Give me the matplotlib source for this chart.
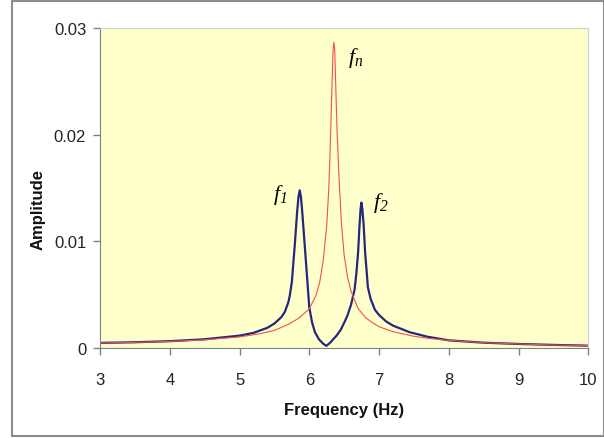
import matplotlib
matplotlib.use("Agg")
import matplotlib.pyplot as plt
from matplotlib.patches import Rectangle

plt.rcParams['font.family'] = ['Liberation Sans', 'DejaVu Sans']
plt.rcParams['mathtext.fontset'] = 'custom'
plt.rcParams['mathtext.it'] = 'Liberation Serif:italic'
plt.rcParams['mathtext.rm'] = 'Liberation Serif:italic'

# Réponse du système seul (rouge)
freq_n = [3.0, 3.5, 4.0, 4.5, 5.0, 5.3, 5.5, 5.7, 5.85, 6.0, 6.1, 6.15, 6.2,
          6.25, 6.28, 6.30, 6.32, 6.34, 6.352, 6.365, 6.38, 6.40, 6.43, 6.46,
          6.50, 6.55, 6.60, 6.70, 6.80, 6.90, 7.0, 7.2, 7.5, 7.7, 8.0, 8.5,
          9.0, 9.5, 10.0]
amp_n = [0.00047, 0.00053, 0.00062, 0.00077, 0.00104, 0.00135, 0.00165, 0.00222,
         0.00280, 0.00367, 0.00500, 0.00620, 0.00820, 0.01150, 0.01500, 0.01880,
         0.02350, 0.02780, 0.02870, 0.02790, 0.02450, 0.02000, 0.01550, 0.01180,
         0.00870, 0.00660, 0.00530, 0.00370, 0.00290, 0.00240, 0.00200, 0.00153,
         0.00110, 0.00091, 0.00072, 0.00050, 0.00038, 0.00028, 0.00022]

# Réponse avec absorbeur (bleu)
freq_2 = [3.0, 3.5, 4.0, 4.5, 5.0, 5.2, 5.4, 5.5, 5.6, 5.65, 5.70, 5.72, 5.75,
          5.79, 5.825, 5.845, 5.863, 5.88, 5.90, 5.935, 5.97, 6.0, 6.04, 6.08,
          6.14, 6.20, 6.245, 6.30, 6.34, 6.39, 6.45, 6.51, 6.55, 6.60, 6.65,
          6.675, 6.70, 6.72, 6.735, 6.747, 6.76, 6.78, 6.80, 6.82, 6.84, 6.88,
          6.94, 7.0, 7.1, 7.2, 7.44, 7.7, 8.0, 8.5, 9.0, 9.5, 10.0]
amp_2 = [0.00048, 0.00054, 0.00064, 0.00082, 0.00116, 0.00142, 0.00190, 0.00230,
         0.00290, 0.00340, 0.00430, 0.00490, 0.00620, 0.00950, 0.01270, 0.01420,
         0.01480, 0.01420, 0.01270, 0.00960, 0.00650, 0.00380, 0.00240, 0.00150,
         0.00080, 0.00040, 0.00020, 0.00050, 0.00080, 0.00115, 0.00170, 0.00250,
         0.00310, 0.00410, 0.00550, 0.00700, 0.00900, 0.01150, 0.01300, 0.01365,
         0.01310, 0.01150, 0.00900, 0.00740, 0.00570, 0.00460, 0.00360, 0.00310,
         0.00250, 0.00210, 0.00148, 0.00105, 0.00072, 0.00050, 0.00038, 0.00029,
         0.00022]

x_ticks = [3, 4, 5, 6, 7, 8, 9, 10]
y_ticks = [0, 0.01, 0.02, 0.03]
y_labels = ["0", "0.01", "0.02", "0.03"]

fig = plt.figure(figsize=(6.04, 4.39), dpi=100)
fig.patches.append(Rectangle((0.02, 0.005), 0.98, 0.99, transform=fig.transFigure,
                             fill=False, edgecolor="#8C8C8C", lw=1.5))
ax = fig.add_axes([0.1656, 0.205, 0.8084, 0.728])
ax.set_facecolor("#FFFFCC")

ax.plot(freq_2, amp_2, color="#26267F", lw=1.6)
ax.plot(freq_n, amp_n, color="#F2504A", lw=0.8)

ax.set_xlim(3, 10)
ax.set_ylim(0, 0.03)
ax.set_xticks(x_ticks)
ax.set_yticks(y_ticks)
ax.set_yticklabels(y_labels)
ax.tick_params(direction="out", length=5, width=1, color="#808080",
               labelsize=12, labelcolor="#222222")
ax.tick_params(axis="x", pad=12)
ax.tick_params(axis="y", pad=5)

for s in ["left", "bottom"]:
    ax.spines[s].set_color("#808080")
for s in ["top", "right"]:
    ax.spines[s].set_color("#D0D0D0")

ax.set_xlabel("Frequency (Hz)", fontsize=12, fontweight="bold", labelpad=11,
              color="#111111")
ax.set_ylabel("Amplitude", fontsize=12, fontweight="bold", color="#111111")
ax.yaxis.set_label_coords(-0.112, 0.4375)

# Étiquettes des pics
ax.text(5.58, 0.0145, r"$f_1$", fontsize=16, ha="center", va="center")
ax.text(7.02, 0.0137, r"$f_2$", fontsize=16, ha="center", va="center")
ax.text(6.66, 0.0273, r"$f_n$", fontsize=16, ha="center", va="center")

fig.savefig("out.png", dpi=100)
